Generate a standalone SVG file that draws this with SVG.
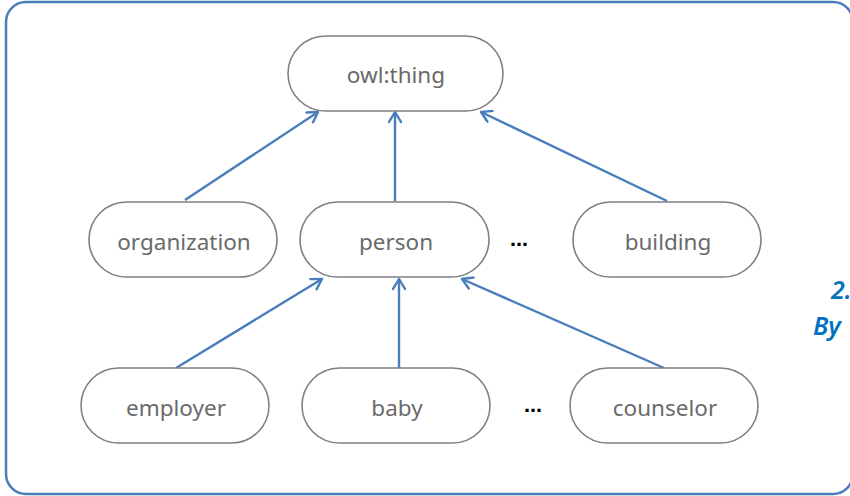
<svg xmlns="http://www.w3.org/2000/svg" width="850" height="496" viewBox="0 0 850 496">
  <style>
    .frame { fill: #ffffff; stroke: #4a7ebb; stroke-width: 2.5; }
    .node rect { fill: #ffffff; stroke: #808080; stroke-width: 1.6; }
    .node text { font-family: "Noto Sans", "Open Sans", sans-serif; font-size: 22.5px; fill: #6a6a6a; text-anchor: middle; dominant-baseline: central; }
    .dots { font-family: "DejaVu Sans", sans-serif; font-size: 18px; font-weight: bold; fill: #000000; text-anchor: middle; }
    .edge { stroke: #4a7ebb; stroke-width: 2.4; fill: none; marker-end: url(#open); }
    .note { font-family: "Noto Sans", "Open Sans", sans-serif; font-size: 25px; font-style: italic; font-weight: 600; fill: #0070c0; }
  </style>
  <defs>
    <marker id="open" viewBox="0 0 14 14" refX="12" refY="7" markerWidth="14" markerHeight="14" markerUnits="userSpaceOnUse" orient="auto">
      <path d="M2,1 L12,7 L2,13" fill="none" stroke="#4a7ebb" stroke-width="2.4" stroke-linecap="round" stroke-linejoin="round"/>
    </marker>
  </defs>

  <rect class="frame" x="6" y="2" width="847" height="492" rx="20"/>

  <text class="note" x="831" y="299">2.</text>
  <text class="note" x="813" y="335">By</text>

  <g id="connectors">
    <line class="edge" x1="185" y1="200" x2="318" y2="112"/>
    <line class="edge" x1="395" y1="201" x2="395" y2="112"/>
    <line class="edge" x1="667" y1="201" x2="481" y2="112"/>
    <line class="edge" x1="176" y1="368" x2="322" y2="279"/>
    <line class="edge" x1="399" y1="368" x2="399" y2="279"/>
    <line class="edge" x1="664" y1="368" x2="462" y2="279"/>
  </g>

  <g id="owl-thing" class="node">
    <rect x="288" y="36" width="215" height="75" rx="37.5"/>
    <text x="396" y="74">owl:thing</text>
  </g>
  <g id="organization" class="node">
    <rect x="89" y="202" width="188" height="75" rx="37.5"/>
    <text x="184" y="241">organization</text>
  </g>
  <g id="person" class="node">
    <rect x="300" y="202" width="189" height="75" rx="37.5"/>
    <text x="396" y="241">person</text>
  </g>
  <g id="building" class="node">
    <rect x="573" y="202" width="188" height="75" rx="37.5"/>
    <text x="668" y="241">building</text>
  </g>
  <g id="employer" class="node">
    <rect x="81" y="368" width="188" height="75" rx="37.5"/>
    <text x="176" y="407">employer</text>
  </g>
  <g id="baby" class="node">
    <rect x="302" y="368" width="188" height="75" rx="37.5"/>
    <text x="397" y="407">baby</text>
  </g>
  <g id="counselor" class="node">
    <rect x="570" y="368" width="188" height="75" rx="37.5"/>
    <text x="665" y="407">counselor</text>
  </g>

  <text class="dots" x="519" y="246">…</text>
  <text class="dots" x="533" y="412">…</text>
</svg>
